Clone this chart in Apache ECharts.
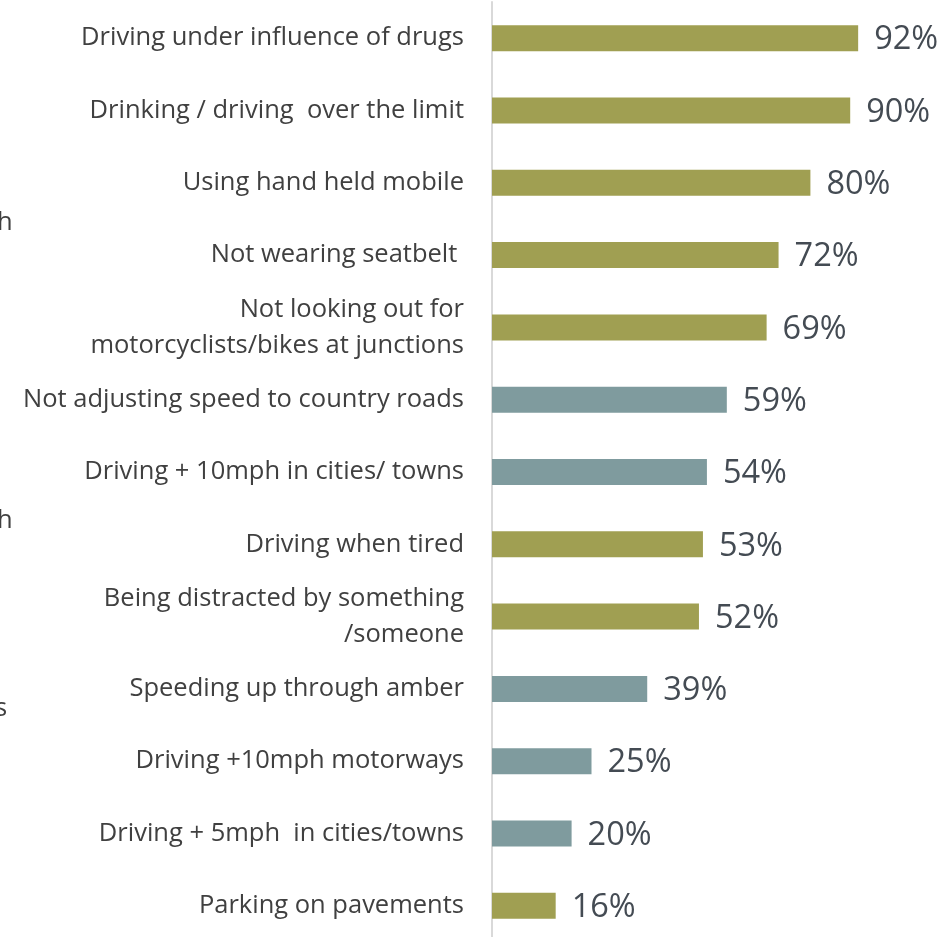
<!DOCTYPE html>
<html><head><meta charset="utf-8">
<script src="https://cdn.jsdelivr.net/npm/echarts@6/dist/echarts.min.js"></script>
<style>html,body{margin:0;padding:0;background:#fff;overflow:hidden}#c{width:943px;height:945px}</style>
</head><body><div id="c"></div>
<script>
const categories = [
  "Driving under influence of drugs",
  "Drinking / driving  over the limit",
  "Using hand held mobile",
  "Not wearing seatbelt ",
  "Not looking out for\nmotorcyclists/bikes at junctions",
  "Not adjusting speed to country roads",
  "Driving + 10mph in cities/ towns",
  "Driving when tired",
  "Being distracted by something\n/someone",
  "Speeding up through amber",
  "Driving +10mph motorways",
  "Driving + 5mph  in cities/towns",
  "Parking on pavements"
];
const values = [92, 90, 80, 72, 69, 59, 54, 53, 52, 39, 25, 20, 16];
const groups = ["a","a","a","a","a","b","b","a","a","b","b","b","a"];
const edgeFragments = ["h", "h", "s"];

const groupColor = {a: "#A09F52", b: "#7F9B9E"};
const chart = echarts.init(document.getElementById('c'));
chart.setOption({
  animation: false,
  grid: {left: 492, top: 2, right: 53, bottom: 3, containLabel: false},
  xAxis: {type: 'value', min: 0, max: 100, show: false},
  yAxis: {
    type: 'category', data: categories, inverse: true,
    axisLine: {show: true, lineStyle: {color: '#D9D9D9', width: 2}},
    axisTick: {show: false},
    axisLabel: {color: '#404040', fontSize: 25.5, fontFamily: 'Open Sans', margin: 28, align: 'right', lineHeight: 36, padding: [4, 0, 0, 0]}
  },
  series: [{
    type: 'bar', barWidth: 26,
    data: values.map((v, i) => ({value: v, itemStyle: {color: groupColor[groups[i]]}})),
    label: {show: true, position: 'right', distance: 16, offset: [0, 2], formatter: '{c}%', color: '#444B53', fontSize: 32.5, fontFamily: 'Open Sans'}
  }],
  graphic: [
    {type: 'text', left: -3, top: 210, style: {text: edgeFragments[0], fill: '#404040', font: '25.5px "Open Sans"'}},
    {type: 'text', left: -3, top: 508, style: {text: edgeFragments[1], fill: '#404040', font: '25.5px "Open Sans"'}},
    {type: 'text', left: -5, top: 696, style: {text: edgeFragments[2], fill: '#404040', font: '25.5px "Open Sans"'}}
  ]
});
</script></body></html>
